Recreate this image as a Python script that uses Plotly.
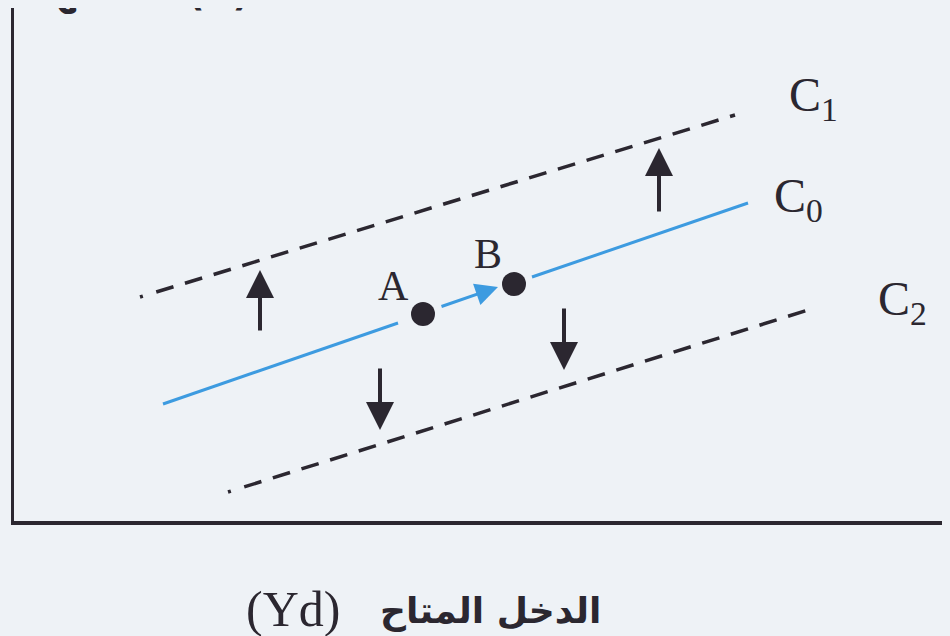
import plotly.graph_objects as go

# consumption functions (income on x, consumption on y)
c1_x = [1.26, 7.21]
c1_y = [2.24, 4.06]
c0_x = [1.49, 3.84, None, 5.18, 7.34]
c0_y = [1.17, 1.98, None, 2.44, 3.18]
c2_x = [2.14, 7.94]
c2_y = [0.29, 2.11]

# points on C0
point_names = ['A', 'B']
point_x = [4.09, 5.00]
point_y = [2.07, 2.37]
label_x = [3.79, 4.74]
label_y = [2.35, 2.67]

# movement along C0 (A -> B)
move_tail = (4.26, 2.14)
move_tip = (4.84, 2.34)

# shift arrows (up to C1, down to C2)
shift_x = [2.46, 6.45, 3.66, 5.50]
shift_tail = [1.89, 3.08, 1.54, 2.14]
shift_tip = [2.51, 3.73, 0.91, 1.51]

# curve names
curve_names = ['C<sub>1</sub>', 'C<sub>0</sub>', 'C<sub>2</sub>']
curve_x = [7.73, 7.58, 8.62]
curve_y = [4.23, 3.22, 2.19]

ink = '#2b2730'
blue = '#3d9be0'
bg = '#eef2f6'
serif = 'Liberation Serif, Times New Roman, serif'
arabic = 'DejaVu Sans, sans-serif'

# dashed curves start with a small dot, then regular dashes
dots_dashes = '3px,14px,' + ','.join(['18px,12px'] * 22)

fig = go.Figure()

fig.add_trace(go.Scatter(x=c1_x, y=c1_y, mode='lines',
                         line=dict(color=ink, width=3.5, dash=dots_dashes)))
fig.add_trace(go.Scatter(x=c2_x, y=c2_y, mode='lines',
                         line=dict(color=ink, width=3.5, dash=dots_dashes)))
fig.add_trace(go.Scatter(x=c0_x, y=c0_y, mode='lines',
                         line=dict(color=blue, width=3)))
fig.add_trace(go.Scatter(x=point_x, y=point_y, mode='markers',
                         marker=dict(color=ink, size=24)))

annotations = []
for name, x, y in zip(point_names, label_x, label_y):
    annotations.append(dict(x=x, y=y, text=name, showarrow=False,
                            font=dict(family=serif, size=42, color=ink)))

for name, x, y in zip(curve_names, curve_x, curve_y):
    annotations.append(dict(x=x, y=y, text=name, showarrow=False,
                            xanchor='left', yanchor='middle',
                            font=dict(family=serif, size=48, color=ink)))

for x, t0, t1 in zip(shift_x, shift_tail, shift_tip):
    annotations.append(dict(x=x, y=t1, ax=x, ay=t0, xref='x', yref='y',
                            axref='x', ayref='y', text='', showarrow=True,
                            arrowhead=2, arrowwidth=4, arrowsize=1.4,
                            arrowcolor=ink, standoff=0))

annotations.append(dict(x=move_tip[0], y=move_tip[1], ax=move_tail[0],
                        ay=move_tail[1], xref='x', yref='y', axref='x',
                        ayref='y', text='', showarrow=True, arrowhead=2,
                        arrowwidth=3, arrowsize=1.5, arrowcolor=blue,
                        standoff=0))

# x axis title (Arabic + symbol)
annotations.append(dict(x=3.64, y=-0.175, xref='x', yref='paper',
                        text='الدخل المتاح', showarrow=False,
                        xanchor='left', yanchor='middle',
                        font=dict(family=arabic, size=36, color=ink,
                                  weight='bold')))
annotations.append(dict(x=3.28, y=-0.172, xref='x', yref='paper',
                        text='(Yd)', showarrow=False,
                        xanchor='right', yanchor='middle',
                        font=dict(family=serif, size=50, color=ink)))

# y axis title, cut off at the top edge of the page
annotations.append(dict(x=1.06, y=0.984, xref='x', yref='paper',
                        text='الاستهلاك (C)', showarrow=False,
                        xanchor='center', yanchor='bottom',
                        font=dict(family=arabic, size=38, color=ink,
                                  weight='bold')))

fig.update_layout(
    width=942, height=628,
    margin=dict(l=6, r=0, t=0, b=115),
    paper_bgcolor=bg, plot_bgcolor=bg,
    showlegend=False,
    annotations=annotations,
)
fig.update_xaxes(range=[0, 9.36], showline=True, linewidth=3.5, linecolor=ink,
                 showgrid=False, zeroline=False, showticklabels=False,
                 ticks='')
fig.update_yaxes(range=[0, 5.13], showline=True, linewidth=3, linecolor=ink,
                 showgrid=False, zeroline=False, showticklabels=False,
                 ticks='')

fig.write_html("out.html",
               post_script="document.body.style.background='%s';" % bg)
